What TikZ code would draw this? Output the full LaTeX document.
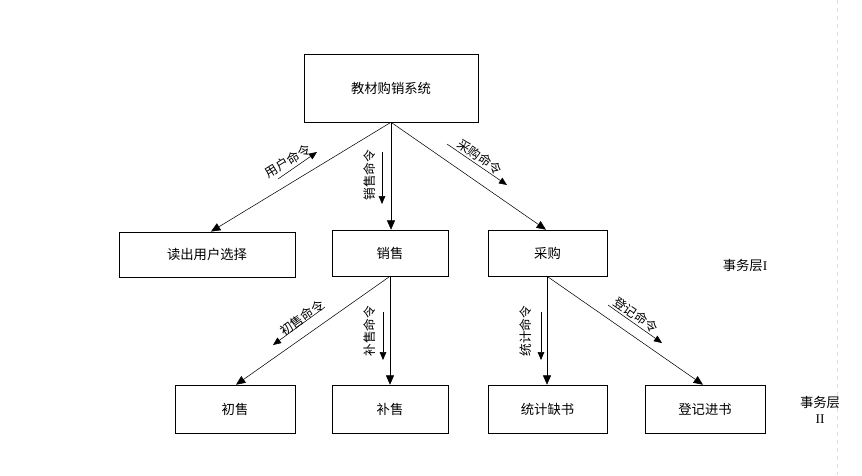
\documentclass[tikz,border=0pt]{standalone}
\usepackage{fontspec}
\setmainfont{Noto Sans CJK SC}
\newfontfamily\romanfont{Liberation Serif}
\usepackage{tikz}
\usetikzlibrary{arrows.meta, positioning}

\begin{document}
\begin{tikzpicture}[x=0.75pt, y=-0.75pt,
        box/.style={draw, rectangle, inner sep=0pt, font=\fontsize{10}{12}\selectfont},
        conn/.style={-{Triangle[length=7pt, width=6pt]}},
        cmd/.style={font=\fontsize{9.5}{11}\selectfont, inner sep=0pt},
        cmdarrow/.style={-{Triangle[length=6pt, width=5pt]}, thin}]
        \useasboundingbox (0,0) rectangle (862,475);
        % page edge
        \draw[gray!25, dashed] (837,0) -- (837,475);

        % Nodes
        \node (sys) [box, minimum width=130.5pt, minimum height=51pt] at (391,88) {教材购销系统};

        \node (read) [box, minimum width=132pt, minimum height=34pt] at (207,254.5) {读出用户选择};
        \node (sale) [box, minimum width=87pt, minimum height=34.5pt] at (390,253) {销售};
        \node (buy) [box, minimum width=89pt, minimum height=34.5pt] at (547.5,253) {采购};

        \node (first) [box, minimum width=90pt, minimum height=36pt] at (235,409) {初售};
        \node (refill) [box, minimum width=87pt, minimum height=36pt] at (390,409) {补售};
        \node (count) [box, minimum width=89pt, minimum height=36pt] at (547.5,409) {统计缺书};
        \node (enter) [box, minimum width=90pt, minimum height=36pt] at (705,409) {登记进书};

        \node (layer1) [font=\fontsize{10}{12}\selectfont] at (745,265) {事务层{\romanfont I}};
        \node (layer2) [font=\fontsize{10}{12}\selectfont, align=center, inner sep=0pt] at (820,410) {事务层\\{\romanfont II}};

        % Arrows
        \draw[conn] (sys.south) -- (read.north -| 211,0);
        \draw[conn] (sys.south) -- (sale.north -| 391,0);
        \draw[conn] (sys.south) -- (buy.north -| 546,0);
        \draw[conn] (sale.south) -- (first.north -| 236,0);
        \draw[conn] (sale.south) -- (refill.north);
        \draw[conn] (buy.south -| 547,0) -- (count.north -| 547,0);
        \draw[conn] (buy.south -| 547,0) -- (enter.north -| 703,0);

        % command labels
        \node (cmduser) [cmd, rotate=31.4] at (288,161) {用户命令};
        \coordinate (u1) at (278,179);
        \coordinate (u2) at (317,152);
        \draw[cmdarrow] (u1) -- (u2);

        \node (cmdsale) [cmd, rotate=90] at (370,175) {销售命令};
        \coordinate (s1) at (382,152);
        \coordinate (s2) at (382,204);
        \draw[cmdarrow] (s1) -- (s2);

        \node (cmdbuy) [cmd, rotate=-34.9] at (480,157) {采购命令};
        \coordinate (b1) at (447,144);
        \coordinate (b2) at (507,185);
        \draw[cmdarrow] (b1) -- (b2);

        \node (cmdfirst) [cmd, rotate=35.3] at (302,318) {初售命令};
        \coordinate (f1) at (325,307);
        \coordinate (f2) at (273,345);
        \draw[cmdarrow] (f1) -- (f2);

        \node (cmdrefill) [cmd, rotate=90] at (370,331) {补售命令};
        \coordinate (r1) at (383,312);
        \coordinate (r2) at (383,360);
        \draw[cmdarrow] (r1) -- (r2);

        \node (cmdcount) [cmd, rotate=90] at (526,331) {统计命令};
        \coordinate (c1) at (541,312);
        \coordinate (c2) at (541,360);
        \draw[cmdarrow] (c1) -- (c2);

        \node (cmdenter) [cmd, rotate=-34.9] at (636,315) {登记命令};
        \coordinate (e1) at (608,305);
        \coordinate (e2) at (662,343);
        \draw[cmdarrow] (e1) -- (e2);
    \end{tikzpicture}
\end{document}
